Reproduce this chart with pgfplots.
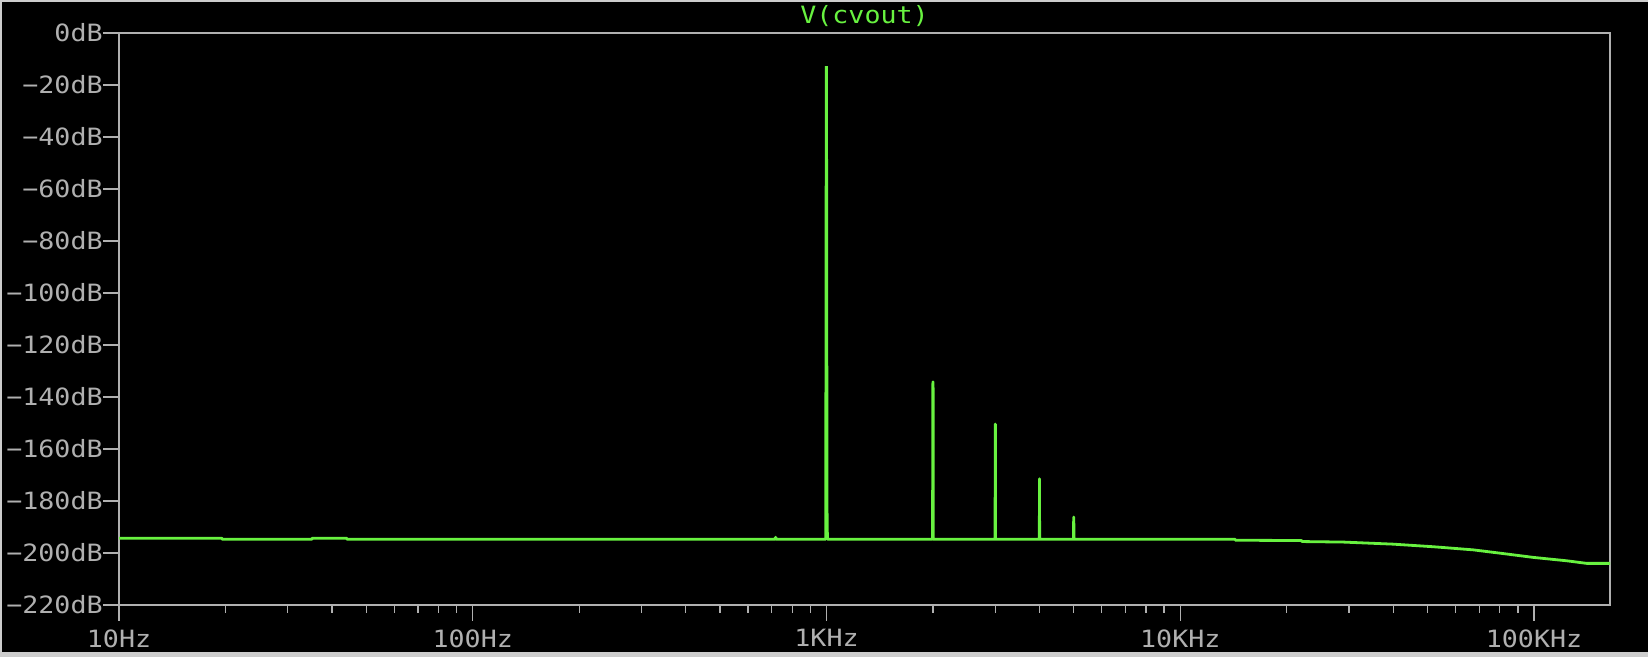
\documentclass[border=0pt]{standalone}
\usepackage{fontspec}
\setmonofont[FakeStretch=1.12]{DejaVu Sans Mono}
\usepackage{pgfplots}
\pgfplotsset{compat=1.18}
\definecolor{ltgreen}{RGB}{104,242,64}
\definecolor{ltgray}{RGB}{176,176,176}
\definecolor{chrome}{RGB}{205,205,205}
\newcommand{\lab}{\ttfamily\fontsize{11.9}{12}\selectfont}
\begin{document}
\begin{tikzpicture}
\useasboundingbox (0,0) rectangle (824pt,328.5pt);
\fill[chrome] (0,0) rectangle (824pt,328.5pt);
\fill[black] (1pt,2.5pt) rectangle (824pt,327.7pt);
\begin{axis}[
  at={(59.5pt,26pt)}, anchor=south west,
  scale only axis, width=745.5pt, height=286pt,
  xmode=log, xmin=10, xmax=164000, ymin=-220, ymax=0,
  axis line style={ltgray, line width=0.7pt},
  tick style={ltgray, line width=0.7pt},
  tick align=outside, major tick length=8pt, minor tick length=4pt,
  xtick pos=bottom, ytick pos=left,
  xtick={10,100,1000,10000,100000},
  xticklabels={10Hz,100Hz,1KHz,10KHz,100KHz},
  minor xtick={20,30,40,50,60,70,80,90,200,300,400,500,600,700,800,900,2000,3000,4000,5000,6000,7000,8000,9000,20000,30000,40000,50000,60000,70000,80000,90000},
  ytick={-220,-200,-180,-160,-140,-120,-100,-80,-60,-40,-20,0},
  yticklabels={−220dB,−200dB,−180dB,−160dB,−140dB,−120dB,−100dB,−80dB,−60dB,−40dB,−20dB,0dB},
  ticklabel style={font=\lab, text=ltgray, inner sep=0pt},
  yticklabel style={anchor=east},
  xticklabel style={anchor=north, yshift=-4pt},
  clip=false,
]
\addplot[ltgreen, line width=1.4pt, line join=bevel] coordinates {
(10,-194.3) (19.5,-194.3) (19.6,-194.7) (35.1,-194.7) (35.2,-194.3) (44,-194.3) (44.1,-194.7)
(716,-194.7) (717,-194.0) (719,-194.0) (720,-194.7)
(995,-194.7) (997,-78.3) (999,-12.7) (1001,-60.4) (1003,-181.5) (1006,-194.7)
(1995,-194.7) (1997,-139) (1999,-134.2) (2001,-134.2) (2003,-194.7)
(2995,-194.7) (2997,-180.4) (2999,-150.4) (3001,-150.4) (3003,-194.7)
(3997,-194.7) (3999,-171.5) (4001,-171.5) (4003,-194.7)
(4990,-194.7) (4993,-194.0) (4996,-186.2) (5000,-186.2) (5004,-191.2) (5008,-194.7)
(14300,-194.7) (14310,-195.1) (22000,-195.2) (22100,-195.6) (28900,-195.8)
(40000,-196.6) (52000,-197.6) (67400,-198.8) (83800,-200.4) (99600,-201.7)
(123800,-203) (141000,-204) (164000,-204)
};
\node[font=\lab, text=ltgreen, anchor=center, inner sep=0pt, yshift=8.3pt] at (rel axis cs:0.5,1) {V(cvout)};
\end{axis}
\end{tikzpicture}
\end{document}
